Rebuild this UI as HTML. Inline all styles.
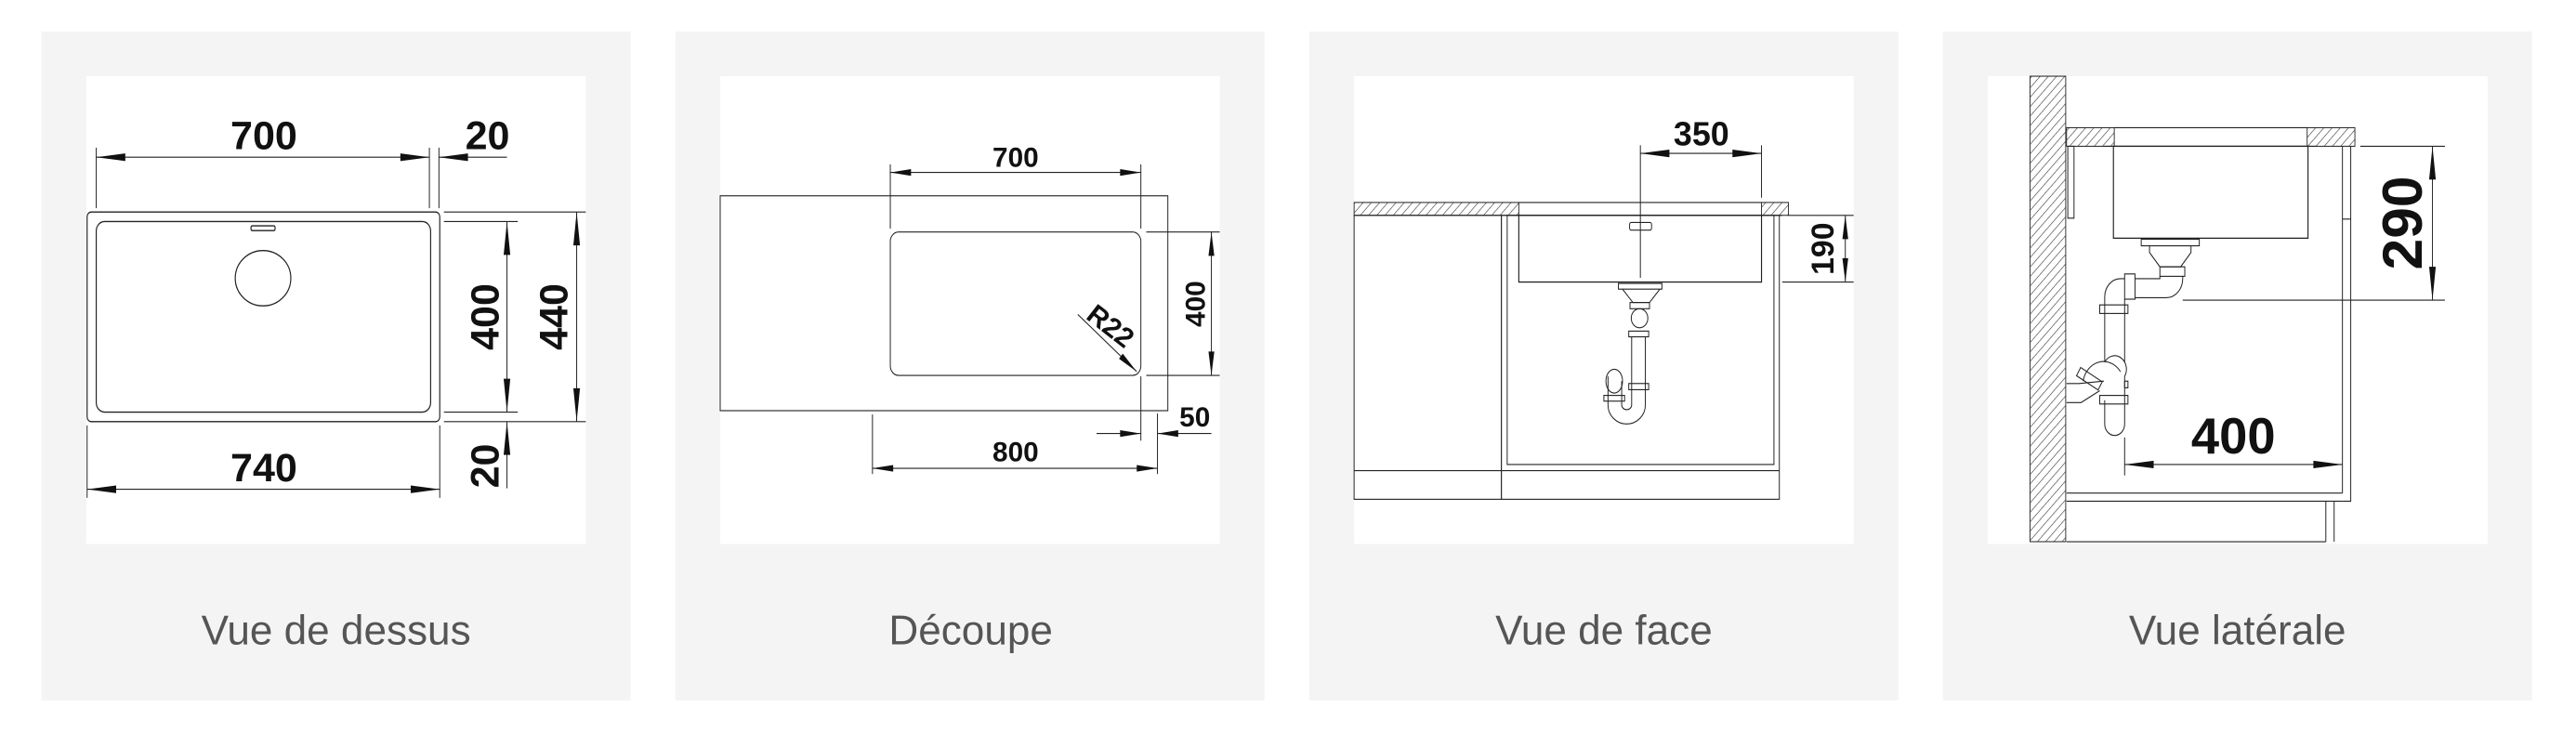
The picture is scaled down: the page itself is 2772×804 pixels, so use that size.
<!DOCTYPE html>
<html><head><meta charset="utf-8"><style>
html,body{margin:0;padding:0;background:#fff;width:2772px;height:804px;overflow:hidden}
svg{display:block}
text{font-family:"Liberation Sans",sans-serif}
.n{font-weight:bold;fill:#111}
.lb{fill:#555;font-size:86px}
.l{stroke:#222;stroke-width:2.6;fill:none}
.t{stroke:#222;stroke-width:2.2;fill:none}
</style></head><body>
<svg width="2772" height="804" viewBox="0 0 2772 804" xmlns="http://www.w3.org/2000/svg">
<defs>
<marker id="a" markerUnits="userSpaceOnUse" markerWidth="80" markerHeight="24" viewBox="-72 -12 80 24" refX="0" refY="0" orient="auto-start-reverse"><path d="M0,0 L-70,-8 L-70,8 Z" fill="#111"/></marker>
<marker id="b" markerUnits="userSpaceOnUse" markerWidth="60" markerHeight="20" viewBox="-52 -10 60 20" refX="0" refY="0" orient="auto-start-reverse"><path d="M0,0 L-50,-7 L-50,7 Z" fill="#111"/></marker>
<pattern id="h" patternUnits="userSpaceOnUse" width="14" height="14" patternTransform="rotate(45)"><rect width="14" height="14" fill="#fff"/><line x1="0" y1="0" x2="0" y2="14" stroke="#333" stroke-width="2.5"/></pattern>
</defs>
<rect width="2772" height="804" fill="#fff"/>

<!-- Panel 1 -->
<g transform="translate(0,0) scale(0.44643,0.51276)">
<rect x="100" y="66" width="1420" height="1404" fill="#f4f4f4"/>
<rect x="208" y="160" width="1204" height="982" fill="#fff"/>
<line class="t" x1="232" y1="310" x2="232" y2="437"/>
<line class="t" x1="1035" y1="310" x2="1035" y2="437"/>
<line class="t" x1="1058" y1="310" x2="1058" y2="437"/>
<line class="t" x1="232" y1="330" x2="1035" y2="330" marker-start="url(#a)" marker-end="url(#a)"/>
<line class="t" x1="1222" y1="330" x2="1058" y2="330" marker-end="url(#a)"/>
<text class="n" font-size="84" text-anchor="middle" transform="translate(636,313) scale(1.1487,1)">700</text>
<text class="n" font-size="84" text-anchor="middle" transform="translate(1175,313) scale(1.1487,1)">20</text>
<rect class="l" x="210" y="445" width="850" height="440" rx="10"/>
<rect class="l" x="232" y="465" width="806" height="400" rx="20"/>
<rect class="l" x="605" y="474" width="58" height="10" rx="3"/>
<ellipse class="l" cx="634" cy="584" rx="67" ry="58"/>
<line class="t" x1="1070" y1="445" x2="1412" y2="445"/>
<line class="t" x1="1070" y1="465" x2="1248" y2="465"/>
<line class="t" x1="1070" y1="865" x2="1248" y2="865"/>
<line class="t" x1="1070" y1="885" x2="1412" y2="885"/>
<line class="t" x1="1222" y1="465" x2="1222" y2="865" marker-start="url(#a)" marker-end="url(#a)"/>
<line class="t" x1="1222" y1="1025" x2="1222" y2="885" marker-end="url(#a)"/>
<line class="t" x1="1390" y1="445" x2="1390" y2="885" marker-start="url(#a)" marker-end="url(#a)"/>
<text class="n" font-size="84" text-anchor="middle" transform="translate(1202,665) scale(1.1487,1) rotate(-90)">400</text>
<text class="n" font-size="84" text-anchor="middle" transform="translate(1367,665) scale(1.1487,1) rotate(-90)">440</text>
<text class="n" font-size="84" text-anchor="middle" transform="translate(1202,978) scale(1.1487,1) rotate(-90)">20</text>
<line class="t" x1="210" y1="893" x2="210" y2="1045"/>
<line class="t" x1="1060" y1="893" x2="1060" y2="1045"/>
<line class="t" x1="210" y1="1027" x2="1060" y2="1027" marker-start="url(#a)" marker-end="url(#a)"/>
<text class="n" font-size="84" text-anchor="middle" transform="translate(636,1010) scale(1.1487,1)">740</text>
<text class="lb" text-anchor="middle" transform="translate(810,1352) scale(1.1487,1)">Vue de dessus</text>
</g>

<!-- Panel 2 -->
<g transform="translate(700,0) scale(0.44643,0.51276)">
<rect x="60" y="66" width="1420" height="1404" fill="#f4f4f4"/>
<rect x="168" y="160" width="1204" height="982" fill="#fff"/>
<rect class="t" x="168" y="411" width="1079" height="451"/>
<rect class="t" x="578" y="487" width="604" height="301" rx="20"/>
<line class="t" x1="578" y1="345" x2="578" y2="480"/>
<line class="t" x1="1182" y1="345" x2="1182" y2="480"/>
<line class="t" x1="578" y1="362" x2="1182" y2="362" marker-start="url(#b)" marker-end="url(#b)"/>
<text class="n" font-size="58" text-anchor="middle" transform="translate(880,350) scale(1.1487,1)">700</text>
<line class="t" x1="1195" y1="487" x2="1372" y2="487"/>
<line class="t" x1="1195" y1="788" x2="1372" y2="788"/>
<line class="t" x1="1352" y1="487" x2="1352" y2="788" marker-start="url(#b)" marker-end="url(#b)"/>
<text class="n" font-size="58" text-anchor="middle" transform="translate(1336,638) scale(1.1487,1) rotate(-90)">400</text>
<line class="t" x1="1030" y1="660" x2="1172" y2="780" marker-end="url(#b)"/>
<text class="n" font-size="58" text-anchor="middle" transform="translate(1095,700) scale(1.1487,1) rotate(38)">R22</text>
<line class="t" x1="535" y1="870" x2="535" y2="995"/>
<line class="t" x1="1222" y1="868" x2="1222" y2="995"/>
<line class="t" x1="535" y1="983" x2="1222" y2="983" marker-start="url(#b)" marker-end="url(#b)"/>
<text class="n" font-size="58" text-anchor="middle" transform="translate(880,968) scale(1.1487,1)">800</text>
<line class="t" x1="1182" y1="790" x2="1182" y2="925"/>
<line class="t" x1="1075" y1="910" x2="1182" y2="910" marker-end="url(#b)"/>
<line class="t" x1="1352" y1="910" x2="1222" y2="910" marker-end="url(#b)"/>
<text class="n" font-size="58" text-anchor="middle" transform="translate(1312,895) scale(1.1487,1)">50</text>
<text class="lb" text-anchor="middle" transform="translate(772,1352) scale(1.1487,1)">Découpe</text>
</g>

<!-- Panel 3 -->
<g transform="translate(1400,0) scale(0.44643,0.51276)">
<rect x="20" y="66" width="1420" height="1404" fill="#f4f4f4"/>
<rect x="128" y="160" width="1204" height="982" fill="#fff"/>
<rect x="128" y="425" width="397" height="27" fill="url(#h)" stroke="#222" stroke-width="2"/>
<rect x="1110" y="425" width="65" height="27" fill="url(#h)" stroke="#222" stroke-width="2"/>
<line class="t" x1="525" y1="425" x2="1110" y2="425"/>
<line class="t" x1="495" y1="452" x2="1160" y2="452"/>
<rect class="t" x="128" y="452" width="355" height="596"/>
<line class="t" x1="128" y1="988" x2="1153" y2="988"/>
<rect class="t" x="483" y="452" width="670" height="596"/>
<path class="t" d="M497,452 V975 H1140 V452"/>
<rect class="l" x="525" y="452" width="585" height="140"/>
<rect class="t" x="792" y="467" width="53" height="16" rx="4"/>
<line class="t" x1="818" y1="305" x2="818" y2="583"/>
<line class="t" x1="1110" y1="305" x2="1110" y2="415"/>
<line class="t" x1="818" y1="322" x2="1110" y2="322" marker-start="url(#a)" marker-end="url(#a)"/>
<text class="n" font-size="70" text-anchor="middle" transform="translate(965,305) scale(1.1487,1)">350</text>
<line class="t" x1="1175" y1="452" x2="1332" y2="452"/>
<line class="t" x1="1160" y1="592" x2="1332" y2="592"/>
<line class="t" x1="1312" y1="452" x2="1312" y2="592" marker-start="url(#b)" marker-end="url(#b)"/>
<text class="n" font-size="66" text-anchor="middle" transform="translate(1284,522) scale(1.1487,1) rotate(-90)">190</text>
<path class="t" d="M765,595 H870 V607 H765 Z M775,607 L800,635 H840 L865,607"/>
<rect class="t" x="793" y="635" width="47" height="13"/>
<ellipse class="t" cx="816" cy="668" rx="20" ry="20"/>
<rect class="t" x="790" y="695" width="48" height="12"/>
<path class="t" d="M797,707 V820 M830,707 V850 A45,40 0 0 1 740,850 V790 M797,820 V850 A12,10 0 0 1 773,850 V800"/>
<rect class="t" x="790" y="805" width="48" height="13"/>
<rect class="t" x="730" y="830" width="50" height="12"/>
<ellipse class="t" cx="755" cy="800" rx="20" ry="25"/>
<text class="lb" text-anchor="middle" transform="translate(730,1352) scale(1.1487,1)">Vue de face</text>
</g>

<!-- Panel 4 -->
<g transform="translate(2072,0) scale(0.44643,0.51276)">
<rect x="42" y="66" width="1420" height="1404" fill="#f4f4f4"/>
<rect x="150" y="160" width="1205" height="982" fill="#fff"/>
<rect x="252" y="160" width="86" height="977" fill="url(#h)" stroke="#222" stroke-width="2"/>
<rect x="340" y="268" width="115" height="39" fill="url(#h)" stroke="#222" stroke-width="2"/>
<rect x="920" y="268" width="115" height="39" fill="url(#h)" stroke="#222" stroke-width="2"/>
<line class="t" x1="455" y1="268" x2="920" y2="268"/>
<line class="t" x1="430" y1="307" x2="942" y2="307"/>
<rect class="l" x="453" y="307" width="469" height="193"/>
<rect class="t" x="343" y="307" width="15" height="151"/>
<path class="t" d="M1005,307 V1035 M1025,307 V1052 H1005 M1005,460 H1025"/>
<line class="t" x1="340" y1="1035" x2="1005" y2="1035"/>
<line class="t" x1="340" y1="1052" x2="1005" y2="1052"/>
<path class="t" d="M965,1052 V1137 M985,1052 V1137 M340,1137 H965"/>
<line class="t" x1="1048" y1="307" x2="1252" y2="307"/>
<line class="t" x1="620" y1="630" x2="1252" y2="630"/>
<line class="t" x1="1222" y1="307" x2="1222" y2="630" marker-start="url(#a)" marker-end="url(#a)"/>
<text class="n" font-size="118" text-anchor="middle" transform="translate(1196,468) scale(1.1487,1) rotate(-90)">290</text>
<line class="t" x1="480" y1="918" x2="480" y2="998"/>
<line class="t" x1="480" y1="975" x2="1005" y2="975" marker-start="url(#a)" marker-end="url(#a)"/>
<text class="n" font-size="106" text-anchor="middle" transform="translate(742,952) scale(1.1487,1)">400</text>
<path class="t" d="M520,502 H660 V516 H520 Z M540,516 V530 L565,560 H615 L640,530 V516"/>
<rect class="t" x="565" y="560" width="60" height="20"/>
<path class="t" d="M620,580 V585 A40,40 0 0 1 580,625 H505 M565,580 V585 H505"/>
<rect class="t" x="480" y="575" width="25" height="53"/>
<path class="t" d="M480,585 H470 A38,38 0 0 0 432,623 V760 M480,628 V760"/>
<rect class="t" x="420" y="640" width="68" height="18"/>
<path class="t" d="M432,760 A24,24 0 0 1 480,790 V890 A24,24 0 0 1 432,890 V840 M380,800 A50,50 0 0 1 470,780"/>
<rect class="t" x="420" y="830" width="68" height="18"/>
<rect class="t" x="480" y="800" width="8" height="14"/>
<path class="t" d="M340,805 H370 L430,800 M340,845 H375 L420,820"/>
<rect class="t" x="365" y="785" width="60" height="20" transform="rotate(30 395 795)"/>
<text class="lb" text-anchor="middle" transform="translate(752,1352) scale(1.1487,1)">Vue latérale</text>
</g>
</svg>
</body></html>
